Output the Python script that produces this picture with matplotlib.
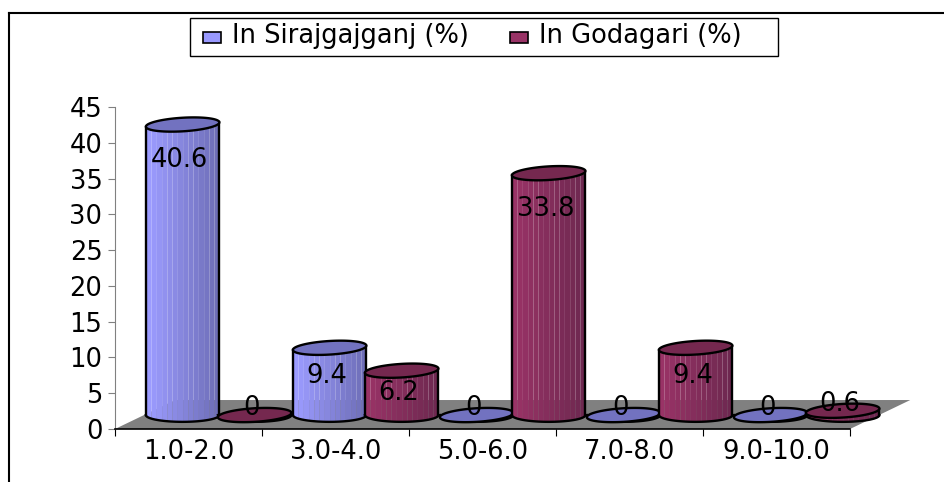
import numpy as np
import matplotlib
matplotlib.use('Agg')
import matplotlib.pyplot as plt
from matplotlib.colors import to_rgb
from matplotlib.patches import Polygon, Rectangle
from matplotlib.lines import Line2D

plt.rcParams['font.family'] = ['DejaVu Sans']

categories = ['1.0-2.0', '3.0-4.0', '5.0-6.0', '7.0-8.0', '9.0-10.0']
sirajgajganj = [40.6, 9.4, 0, 0, 0]
godagari = [0, 6.2, 33.8, 9.4, 0.6]
y_ticks = [0, 5, 10, 15, 20, 25, 30, 35, 40, 45]

W, H = 945, 482
BASE = 1.95      # floor depth of the cylinder centres, in value units
RX = 0.25        # cylinder half width, in categories
RY = 0.95        # half height of the end ellipses, in value units
TILT = 0.3       # the top ellipses lean up to the right
FS = 18.5


def shade(frac, left, right):
    return tuple(l + (r - l) * frac for l, r in zip(to_rgb(left), to_rgb(right)))


def cylinder(ax, cx, value, left, right, top, z):
    xs = np.linspace(cx - RX, cx + RX, 15)
    for i in range(len(xs) - 1):
        x = np.linspace(xs[i], xs[i + 1], 5)
        low = BASE - RY * np.sqrt(np.clip(1 - ((x - cx) / RX) ** 2, 0, 1))
        if value > 0:
            ax.fill_between(x, low, low + value + TILT * (x - cx) / RX,
                            color=shade(i / 13, left, right),
                            lw=0, zorder=z, clip_on=False)
    t = np.linspace(np.pi, 2 * np.pi, 60)
    ax.plot(cx + RX * np.cos(t), BASE + RY * np.sin(t), color='black', lw=1.7,
            zorder=z + 0.2, clip_on=False)
    t = np.linspace(0, 2 * np.pi, 120)
    rim = np.column_stack([cx + RX * np.cos(t),
                           BASE + value + RY * np.sin(t) + TILT * np.cos(t)])
    if value > 0:
        ax.plot([cx - RX, cx - RX], [BASE, BASE + value - TILT], color='black', lw=1.7,
                zorder=z + 0.2, clip_on=False)
        ax.plot([cx + RX, cx + RX], [BASE, BASE + value + TILT], color='black', lw=1.7,
                zorder=z + 0.2, clip_on=False)
    ax.add_patch(Polygon(rim, closed=True, fc=top, ec='black', lw=1.7,
                         zorder=z + 0.3, clip_on=False))


def value_label(ax, cx, value):
    if value < 1:
        y = value + 2.9
    elif value < 7:
        y = value - 1.2
    elif value < 10:
        y = value - 2
    else:
        y = value - 3
    ax.text(cx - 0.02, y, f'{value:g}', ha='center', va='center', fontsize=FS,
            color='black', zorder=50, clip_on=False)


fig = plt.figure(figsize=(W / 100, H / 100), dpi=100)
ax = fig.add_axes([115 / W, 1 - 429 / H, 735 / W, 322 / H])
ax.set_xlim(0, 5)
ax.set_ylim(0, 45)

# outer frame, only top and left show in the picture
fig.add_artist(Line2D([9 / W, 9 / W], [0, 1 - 13 / H], color='black', lw=1.5))
fig.add_artist(Line2D([9 / W, 1], [1 - 13 / H, 1 - 13 / H], color='black', lw=1.5))

# floor
ax.add_patch(Polygon([(0, 0), (5, 0), (5.41, 4.05), (0.41, 4.05)], closed=True,
                     fc='#808080', ec='none', zorder=1, clip_on=False))

z = 5
for i in range(len(categories)):
    cylinder(ax, i + 0.46, sirajgajganj[i], '#9C9CFF', '#6E6EB8', '#7272C0', z)
    value_label(ax, i + 0.46, sirajgajganj[i])
    z += 1
    cylinder(ax, i + 0.95, godagari[i], '#993366', '#6E2850', '#75284F', z)
    value_label(ax, i + 0.95, godagari[i])
    z += 1

for s in ['top', 'right']:
    ax.spines[s].set_visible(False)
ax.spines['left'].set_color('#808080')
ax.spines['bottom'].set_color('black')
ax.spines['bottom'].set_linewidth(1.2)
ax.patch.set_visible(False)
ax.set_yticks(y_ticks)
ax.tick_params(axis='y', length=5, color='#808080', labelsize=FS, pad=4)
ax.set_xticks(range(len(categories) + 1))
ax.set_xticklabels([''] * (len(categories) + 1))
ax.tick_params(axis='x', length=5, color='black')
for i, c in enumerate(categories):
    ax.text(i + 0.5, -3.2, c, ha='center', va='center', fontsize=FS, clip_on=False)

# legend
fig.add_artist(Rectangle((190 / W, 1 - 56 / H), 588 / W, 38 / H, fc='white', ec='black', lw=1,
                         transform=fig.transFigure))
fig.add_artist(Rectangle((203 / W, 1 - 43 / H), 18 / W, 11 / H, fc='#9999FF', ec='black', lw=1.2,
                         transform=fig.transFigure))
fig.add_artist(Rectangle((510 / W, 1 - 43 / H), 18 / W, 11 / H, fc='#993366', ec='black', lw=1.2,
                         transform=fig.transFigure))
fig.text(232 / W, 1 - 36 / H, 'In Sirajgajganj (%)', fontsize=FS, va='center', ha='left')
fig.text(539 / W, 1 - 36 / H, 'In Godagari (%)', fontsize=FS, va='center', ha='left')

fig.savefig('out.png', dpi=100)
